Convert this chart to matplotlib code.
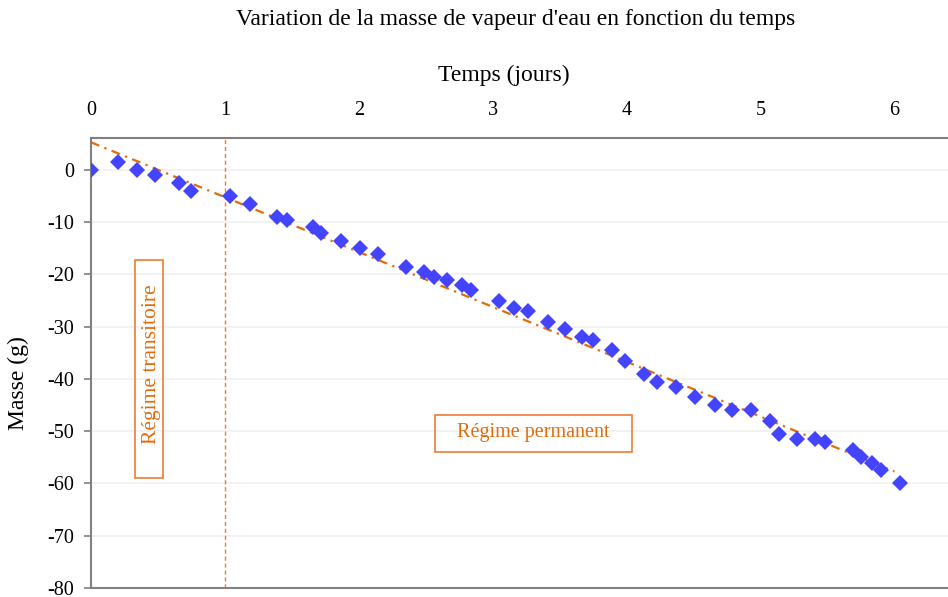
import matplotlib.pyplot as plt
from matplotlib.patches import Rectangle

plt.rcParams['font.family'] = ['Liberation Serif', 'DejaVu Serif']
plt.rcParams['axes.unicode_minus'] = False

# mesures : temps (jours) et variation de masse (g)
temps = [0, 0.2, 0.34, 0.48, 0.66, 0.75, 1.04, 1.19, 1.39, 1.46,
         1.66, 1.72, 1.87, 2.01, 2.14, 2.35, 2.49, 2.56, 2.66, 2.77,
         2.84, 3.05, 3.16, 3.26, 3.41, 3.54, 3.67, 3.75, 3.89, 3.99,
         4.13, 4.23, 4.37, 4.51, 4.66, 4.79, 4.93, 5.07, 5.14, 5.27,
         5.41, 5.48, 5.69, 5.75, 5.83, 5.90, 6.04]
masse = [0, 1.5, 0, -1, -2.5, -4, -5, -6.5, -9, -9.5,
         -11, -12, -13.5, -15, -16, -18.5, -19.5, -20.5, -21, -22,
         -23, -25, -26.5, -27, -29, -30.5, -32, -32.5, -34.5, -36.5,
         -39, -40.5, -41.5, -43.5, -45, -46, -46, -48, -50.5, -51.5,
         -51.5, -52, -53.5, -55, -56, -57.5, -60]

# courbe de tendance linéaire (régime permanent)
pente = -10.5
ordonnee = 5.3
tendance_x = [0, 6.0]

y_ticks = list(range(-80, 1, 10))
x_ticks = [0, 1, 2, 3, 4, 5, 6]

orange = '#ED7D31'
orange_txt = '#E36C0A'

fig = plt.figure(figsize=(9.48, 5.97), dpi=100)
ax = fig.add_axes([0.096, 0.0151, 0.904, 0.7537])

ax.set_xlim(0, 6.4)
ax.set_ylim(-80, 6.12)

for v in y_ticks:
    ax.axhline(v, color='#F0F0F0', lw=1.2, zorder=0)

ax.plot(tendance_x, [ordonnee + pente * t for t in tendance_x], color=orange_txt,
        lw=1.6, linestyle=(0, (4, 2.5, 1, 2.5)), zorder=2)
ax.axvline(1, color=orange, lw=1, linestyle=(0, (3, 2)), zorder=1)
ax.plot(temps, masse, linestyle='none', marker='D', markersize=8,
        color='#4444FF', markeredgewidth=0, zorder=3)

# encadrés des deux régimes
ax.add_patch(Rectangle((0.33, -58.9), 0.21, 41.7, fill=False, edgecolor=orange, lw=1.2, zorder=4))
ax.text(0.455, -37.2, 'Régime transitoire', rotation=90, ha='center', va='center',
        color=orange_txt, fontsize=15.5)
ax.add_patch(Rectangle((2.57, -53.9), 1.47, 7.1, fill=False, edgecolor=orange, lw=1.2, zorder=4))
ax.text(3.30, -50.2, 'Régime permanent', ha='center', va='center',
        color=orange_txt, fontsize=14.5)

ax.xaxis.tick_top()
ax.set_xticks(x_ticks)
ax.set_yticks(y_ticks)
ax.tick_params(axis='x', length=0, pad=13, labelsize=14.5)
ax.tick_params(axis='y', length=5, width=1.2, color='#808080', labelsize=14.5, pad=7)
ax.set_ylabel('Masse (g)', fontsize=17)
ax.yaxis.set_label_coords(-0.072, 0.455)

for side in ['top', 'bottom', 'left']:
    ax.spines[side].set_color('#808080')
    ax.spines[side].set_linewidth(1.5)
ax.spines['right'].set_visible(False)

fig.text(504 / 948, 1 - 75 / 597, 'Temps (jours)', ha='center', va='center', fontsize=17)
fig.text(516 / 948, 1 - 19 / 597, "Variation de la masse de vapeur d'eau en fonction du temps",
         ha='center', va='center', fontsize=17)

fig.savefig('out.png', dpi=100)
